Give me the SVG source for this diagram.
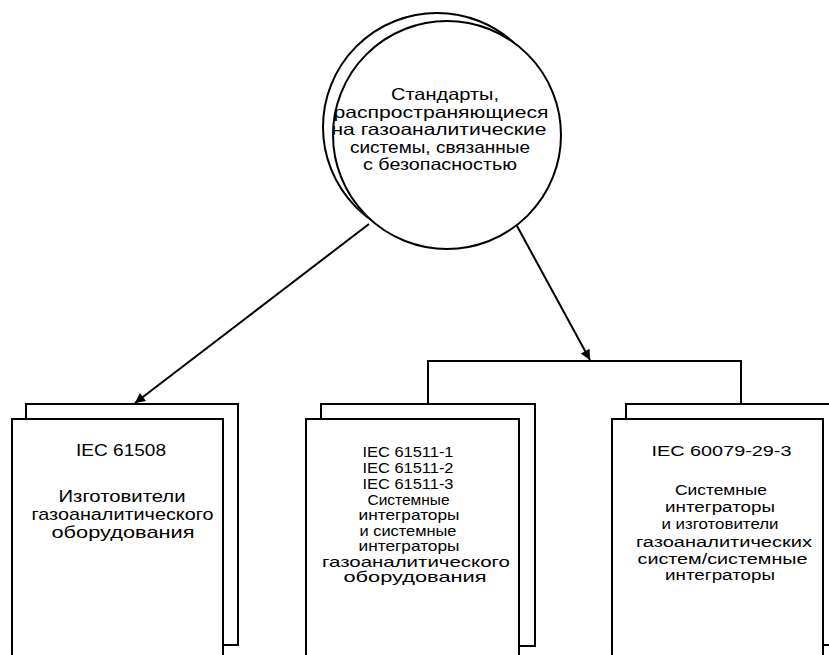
<svg xmlns="http://www.w3.org/2000/svg" width="829" height="655" viewBox="0 0 829 655">
<defs>
<style>
.sh{fill:#fff;stroke:#000;stroke-width:2}
.ln{fill:none;stroke:#000;stroke-width:2}
.t{font-family:"Liberation Sans",Arial,sans-serif;font-size:16px;fill:#000;text-anchor:middle}
.tc{font-size:16.5px}
.b1{font-size:17px}
.b2{font-size:14.5px}
.b3{font-size:15.5px}
</style>
<marker id="ah" viewBox="0 0 10 10" refX="10" refY="5" markerWidth="11" markerHeight="10" orient="auto" markerUnits="userSpaceOnUse">
<path d="M0,0 L10,5 L0,10 Z" fill="#000"/>
</marker>
</defs>
<rect width="829" height="655" fill="#fff"/>
<g id="root">
<circle class="sh" cx="437" cy="127" r="114"/>
<circle class="sh" cx="447" cy="135" r="114"/>
<text class="t tc" x="445" y="100" textLength="108" lengthAdjust="spacingAndGlyphs">Стандарты,</text>
<text class="t tc" x="441" y="117.5" textLength="215" lengthAdjust="spacingAndGlyphs">распространяющиеся</text>
<text class="t tc" x="439" y="135" textLength="215" lengthAdjust="spacingAndGlyphs">на газоаналитические</text>
<text class="t tc" x="440" y="152.5" textLength="180" lengthAdjust="spacingAndGlyphs">системы, связанные</text>
<text class="t tc" x="440" y="170" textLength="154" lengthAdjust="spacingAndGlyphs">с безопасностью</text>
</g>
<g id="connectors">
<line class="ln" x1="369" y1="224" x2="135" y2="403" marker-end="url(#ah)"/>
<line class="ln" x1="517" y1="226" x2="590" y2="360" marker-end="url(#ah)"/>
<polyline class="ln" points="428,404 428,361 741,361 741,404"/>
</g>
<g id="box1">
<rect class="sh" x="26" y="404" width="212" height="241"/>
<rect class="sh" x="12" y="419" width="211" height="260"/>
<text class="t b1" x="121" y="456" textLength="90" lengthAdjust="spacingAndGlyphs">IEC 61508</text>
<text class="t b1" x="122" y="501.5" textLength="127" lengthAdjust="spacingAndGlyphs">Изготовители</text>
<text class="t b1" x="122.5" y="520" textLength="182" lengthAdjust="spacingAndGlyphs">газоаналитического</text>
<text class="t b1" x="123" y="538" textLength="143" lengthAdjust="spacingAndGlyphs">оборудования</text>
</g>
<g id="box2">
<rect class="sh" x="321" y="404" width="214" height="242"/>
<rect class="sh" x="306" y="419" width="213" height="260"/>
<text class="t b2" x="408" y="457" textLength="91" lengthAdjust="spacingAndGlyphs">IEC 61511-1</text>
<text class="t b2" x="408" y="473" textLength="91" lengthAdjust="spacingAndGlyphs">IEC 61511-2</text>
<text class="t b2" x="408" y="488.5" textLength="91" lengthAdjust="spacingAndGlyphs">IEC 61511-3</text>
<text class="t b2" x="408.5" y="505" textLength="82" lengthAdjust="spacingAndGlyphs">Системные</text>
<text class="t b2" x="409" y="520" textLength="101" lengthAdjust="spacingAndGlyphs">интеграторы</text>
<text class="t b2" x="408" y="535.5" textLength="97" lengthAdjust="spacingAndGlyphs">и системные</text>
<text class="t b2" x="409" y="551" textLength="101" lengthAdjust="spacingAndGlyphs">интеграторы</text>
<text class="t b2" x="416" y="566.5" textLength="188" lengthAdjust="spacingAndGlyphs">газоаналитического</text>
<text class="t b2" x="415" y="582" textLength="143" lengthAdjust="spacingAndGlyphs">оборудования</text>
</g>
<g id="box3">
<rect class="sh" x="626" y="404" width="220" height="241"/>
<rect class="sh" x="612" y="419" width="211" height="260"/>
<text class="t b3" x="721.5" y="456" textLength="140" lengthAdjust="spacingAndGlyphs">IEC 60079-29-3</text>
<text class="t b3" x="721" y="495" textLength="92" lengthAdjust="spacingAndGlyphs">Системные</text>
<text class="t b3" x="720" y="512" textLength="110" lengthAdjust="spacingAndGlyphs">интеграторы</text>
<text class="t b3" x="720" y="529" textLength="117" lengthAdjust="spacingAndGlyphs">и изготовители</text>
<text class="t b3" x="724" y="546.5" textLength="176" lengthAdjust="spacingAndGlyphs">газоаналитических</text>
<text class="t b3" x="722.5" y="564" textLength="170" lengthAdjust="spacingAndGlyphs">систем/системные</text>
<text class="t b3" x="720" y="580" textLength="110" lengthAdjust="spacingAndGlyphs">интеграторы</text>
</g>
</svg>
